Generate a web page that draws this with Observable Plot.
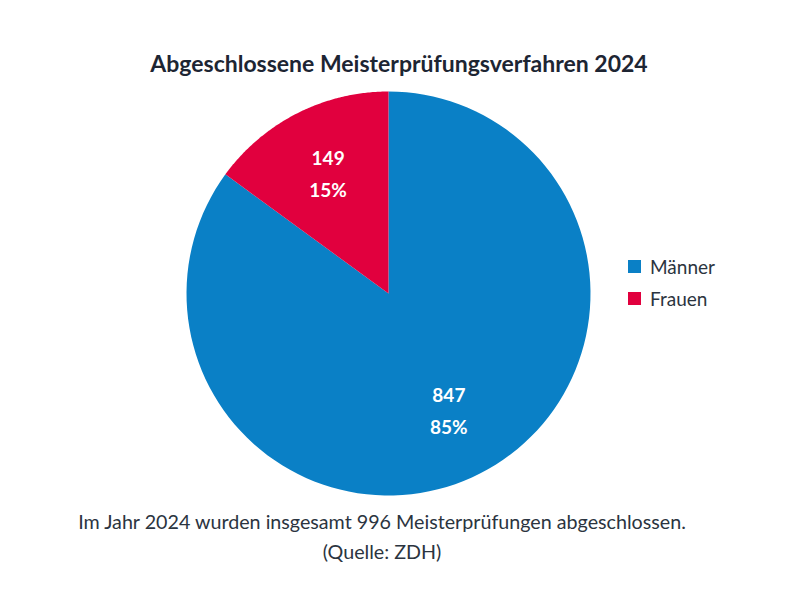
<!DOCTYPE html>
<html><head><meta charset="utf-8">
<script src="https://cdn.jsdelivr.net/npm/d3@7"></script>
<script src="https://cdn.jsdelivr.net/npm/@observablehq/plot@0.6"></script>
<style>
body{margin:0;background:#fff;font-family:Lato,"Open Sans",sans-serif;}
#wrap{position:relative;width:789px;height:592px;}
#title{position:absolute;left:0;width:798px;top:49px;text-align:center;font-size:23px;font-weight:700;color:#1d2533;}
#chart{position:absolute;left:178px;top:83px;}
#legend{position:absolute;left:628px;top:250px;font-size:19px;color:#2b3440;}
#legend div{display:flex;align-items:center;height:32px;}
#legend span.sw{display:inline-block;width:13px;height:13px;margin-right:9px;}
#caption{position:absolute;left:0;width:764px;top:507px;text-align:center;font-size:19.7px;color:#2b3440;line-height:30px;font-weight:400;}
</style></head><body>
<div id="wrap">
<div id="title"></div>
<div id="chart"></div>
<div id="legend"></div>
<div id="caption"></div>
</div>
<script>
const categories = ["Männer", "Frauen"];
const values = [847, 149];
const colors = ["#0a80c6", "#e1003e"];
const titleText = "Abgeschlossene Meisterprüfungsverfahren 2024";
const captionLines = ["Im Jahr 2024 wurden insgesamt 996 Meisterprüfungen abgeschlossen.", "(Quelle: ZDH)"];

document.getElementById("title").textContent = titleText;
document.getElementById("caption").innerHTML = captionLines.map(s => `<div>${s}</div>`).join("");
document.getElementById("legend").innerHTML = categories.map((c, i) =>
  `<div><span class="sw" style="background:${colors[i]}"></span>${c}</div>`).join("");

const total = d3.sum(values);
const arcs = d3.pie().sort(null).value(d => d)(values);
const pts = [];
const labels = [];
arcs.forEach((a, i) => {
  const n = 120;
  pts.push({cat: categories[i], x: 0, y: 0});
  for (let k = 0; k <= n; k++) {
    const t = a.startAngle + (a.endAngle - a.startAngle) * k / n;
    pts.push({cat: categories[i], x: Math.sin(t), y: Math.cos(t)});
  }
  pts.push({cat: categories[i], x: 0, y: 0});
  const m = (a.startAngle + a.endAngle) / 2;
  labels.push({cat: categories[i], x: 0.66 * Math.sin(m), y: 0.66 * Math.cos(m),
    v: String(values[i]), p: Math.round(values[i] / total * 100) + "%"});
});

const plot = Plot.plot({
  width: 420, height: 420,
  margin: 8,
  x: {domain: [-1, 1], axis: null},
  y: {domain: [-1, 1], axis: null},
  color: {domain: categories, range: colors},
  style: {fontFamily: "Lato, sans-serif"},
  marks: [
    Plot.line(pts, {x: "x", y: "y", z: "cat", fill: "cat", stroke: "none", curve: "linear"}),
    Plot.text(labels, {x: "x", y: "y", text: "v", dy: -16, fill: "white", fontSize: 19, fontWeight: 700}),
    Plot.text(labels, {x: "x", y: "y", text: "p", dy: 16, fill: "white", fontSize: 19, fontWeight: 700})
  ]
});
document.getElementById("chart").appendChild(plot);
</script>
</body></html>
